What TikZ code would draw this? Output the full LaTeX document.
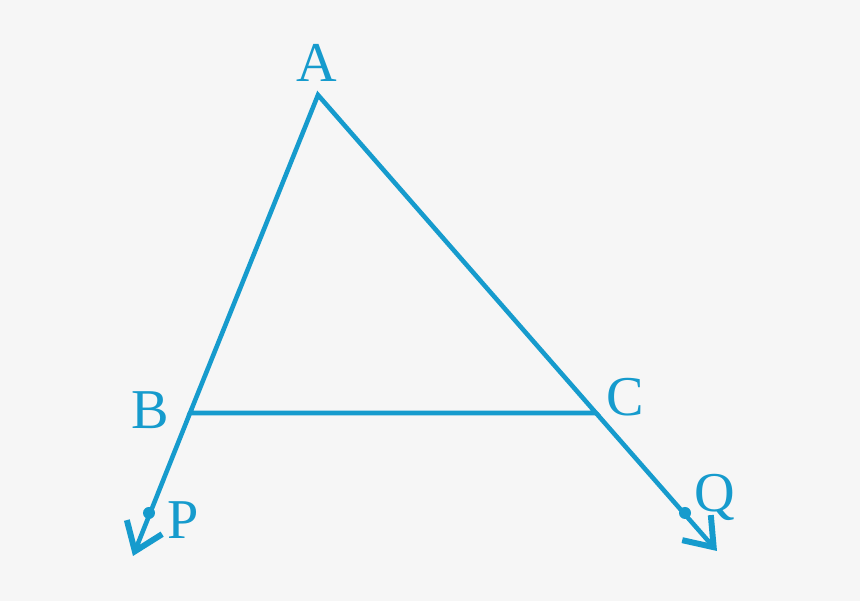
\documentclass[tikz,border=0pt]{standalone}
\usepackage{fontspec}
\setmainfont{Liberation Serif}
\usetikzlibrary{arrows.meta}
\definecolor{lineblue}{RGB}{22,155,205}
\definecolor{bggray}{RGB}{246,246,246}
\tikzstyle{side}=[draw=lineblue, line width=1.3pt, line join=miter]
\tikzstyle{ray}=[style=side, -{Straight Barb[length=2.6mm, width=3.8mm, line width=1.7pt]}]
\tikzstyle{vertex}=[text=lineblue, font=\fontsize{16}{19}\selectfont, inner sep=0]
\tikzstyle{dot}=[circle, fill=lineblue, inner sep=0, minimum size=1.2mm]
\begin{document}
\begin{tikzpicture}
          \fill[bggray] (0, 0) rectangle (8.6, 6.01);
          \useasboundingbox (0, 0) rectangle (8.6, 6.01);
          \coordinate (a) at (3.18, 5.06);
          \coordinate (b) at (1.90, 1.88);
          \coordinate (c) at (5.96, 1.88);
          \node[dot] (p) at (1.49, 0.88) {};
          \node[dot] (q) at (6.85, 0.88) {};
          \coordinate (p_end) at (1.33, 0.45);
          \coordinate (q_end) at (7.17, 0.50);
          \node[vertex] (a_label) at (3.17, 5.38) {A};
          \node[vertex] (b_label) at (1.50, 1.91) {B};
          \node[vertex] (c_label) at (6.25, 2.04) {C};
          \node[vertex] (p_label) at (1.83, 0.81) {P};
          \node[vertex] (q_label) at (7.15, 1.04) {Q};

          \draw[side] (a) -- (b) -- (c) -- cycle;
          \draw[ray] (b) to (p_end);
          \draw[ray] (c) to (q_end);
        \end{tikzpicture}
\end{document}
